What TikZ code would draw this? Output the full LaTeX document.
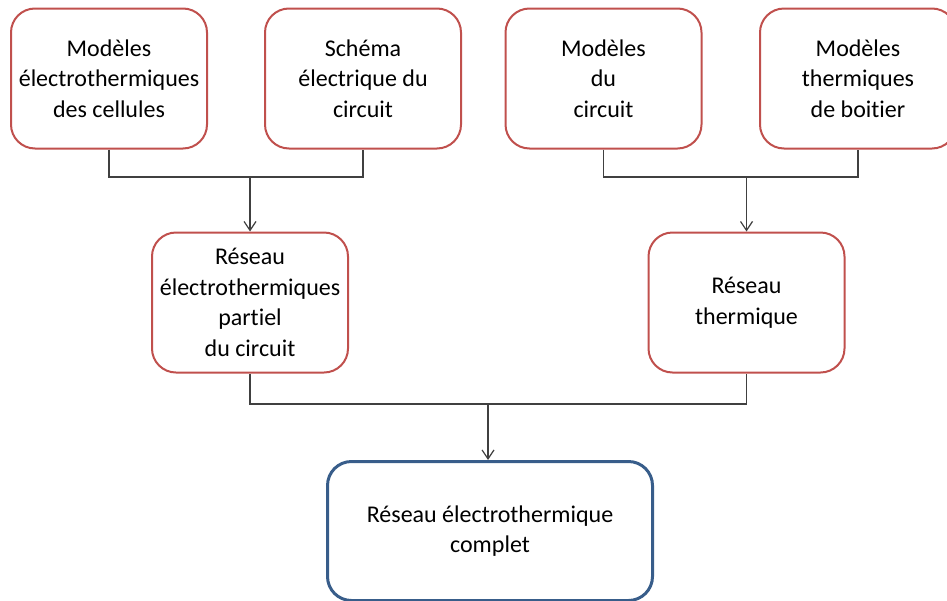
\documentclass[tikz,border=0pt]{standalone}
\usepackage{fontspec}
\setmainfont{Carlito}[Ligatures=NoCommon]
\usetikzlibrary{arrows.meta}

\definecolor{boxred}{RGB}{192,80,77}
\definecolor{boxblue}{RGB}{56,93,138}
\definecolor{linegray}{RGB}{64,64,64}

\begin{document}
\begin{tikzpicture}[x=1pt,y=-1pt,>={Straight Barb[length=9pt,width=12pt]},
    bloc/.style={draw=boxred,line width=2pt,rounded corners=24pt,
        minimum width=196pt,minimum height=140pt,align=center,
        font=\fontsize{24}{30.5}\selectfont},
    fin/.style={bloc,draw=boxblue,line width=3pt,minimum width=325pt,minimum height=139pt},
    lien/.style={draw=linegray,line width=1.2pt}]
        \useasboundingbox (0,0) rectangle (947,600);

        % niveau du haut
        \node[bloc] (cellules) at (109,78.5) {Modèles\\électrothermiques\\des cellules};
        \node[bloc] (schema) at (363,78.5) {Schéma\\électrique du\\circuit};
        \node[bloc] (modcircuit) at (603.5,78.5) {Modèles\\du\\circuit};
        \node[bloc] (boitier) at (858,78.5) {Modèles\\thermiques\\ de boitier};

        % niveau du milieu
        \node[bloc] (partiel) at (250,302.5) {Réseau\\électrothermiques\\partiel\\ du circuit};
        \node[bloc] (thermique) at (746.5,302.5) {Réseau\\thermique};

        % résultat
        \node[fin] (complet) at (490,531) {Réseau électrothermique\\complet};

        \coordinate (haut1) at (250,177);
        \coordinate (haut2) at (746.5,177);
        \coordinate (bas) at (488,404);

        \draw[lien] (cellules.south) |- (haut1) -| (schema.south);
        \draw[lien,->] (haut1) -- (haut1 |- partiel.north);
        \draw[lien] (modcircuit.south) |- (haut2) -| (boitier.south);
        \draw[lien,->] (haut2) -- (haut2 |- thermique.north);
        \draw[lien] (partiel.south) |- (bas) -| (thermique.south);
        \draw[lien,->] (bas) -- (bas |- complet.north);
\end{tikzpicture}
\end{document}
